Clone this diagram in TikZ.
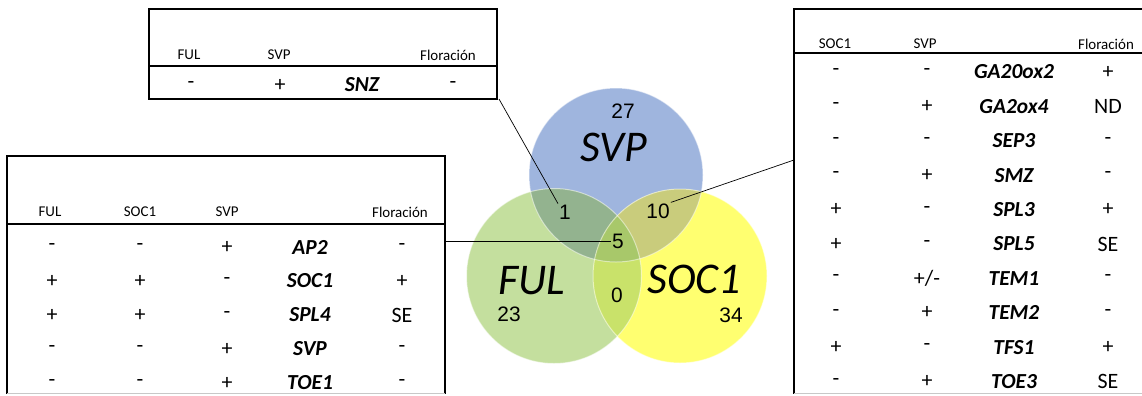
\documentclass[tikz,border=0pt]{standalone}
\usepackage{fontspec}
\setmainfont{Carlito}
\newfontfamily\numfont{Liberation Sans}
\usetikzlibrary{backgrounds}
\definecolor{svpColor}{HTML}{9FB5DE}
\definecolor{fulColor}{HTML}{C4DF9E}
\definecolor{socColor}{HTML}{FFFF70}
\definecolor{svpFulColor}{HTML}{93B38F}
\definecolor{svpSocColor}{HTML}{C9CC7C}
\definecolor{fulSocColor}{HTML}{C9E26A}
\definecolor{allColor}{HTML}{A8C86A}
\definecolor{bottomColor}{HTML}{C8C8C8}
\def\textFlor{Floraci\'{o}n}

\begin{document}
\begin{tikzpicture}[x=1bp,y=-1bp,
  hdr/.style={inner sep=0pt, font=\fontsize{15}{17}\selectfont},
  sign/.style={inner sep=0pt, font=\fontsize{22}{24}\selectfont},
  gene/.style={inner sep=0pt, font=\fontsize{21.5}{23}\selectfont\bfseries\itshape},
  tally/.style={inner sep=1bp, font=\numfont\fontsize{21}{23}\selectfont},
  setname/.style={inner sep=0pt, font=\fontsize{44}{46}\selectfont\itshape},
  frameline/.style={line width=1.6bp},
  ruleline/.style={line width=1.2bp},
  pinline/.style={line width=0.7bp}]

\useasboundingbox[fill=white] (0,0) rectangle (1142,395);

% venn layer
\begin{scope}
\coordinate (cSVP) at (616,175);
\coordinate (cFUL) at (554,276);
\coordinate (cSOC) at (680,276);
\fill[svpColor] (cSVP) circle[radius=87bp];
\fill[fulColor] (cFUL) circle[radius=87.5bp];
\fill[socColor] (cSOC) circle[radius=87bp];
\begin{scope}
\clip (cSVP) circle[radius=87bp];
\fill[svpFulColor] (cFUL) circle[radius=87.5bp];
\fill[svpSocColor] (cSOC) circle[radius=87bp];
\end{scope}
\begin{scope}
\clip (cFUL) circle[radius=87.5bp];
\fill[fulSocColor] (cSOC) circle[radius=87bp];
\clip (cSVP) circle[radius=87bp];
\fill[allColor] (cSOC) circle[radius=87bp];
\end{scope}
\draw[white, opacity=0.5, line width=1bp] (cSVP) circle[radius=87bp];
\draw[white, opacity=0.5, line width=1bp] (cFUL) circle[radius=87.5bp];
\draw[white, opacity=0.5, line width=1bp] (cSOC) circle[radius=87bp];
\end{scope}

% venn labels
\begin{scope}
\node[setname] (setSVP) at (614,147) {SVP};
\node[setname] (setFUL) at (532,281) {FUL};
\node[setname] (setSOC) at (694,279) {SOC1};
\node[tally] (n27) at (623,111) {27};
\node[tally] (n23) at (509,314) {23};
\node[tally] (n34) at (731,315) {34};
\node[tally] (n1) at (565,212) {1};
\node[tally] (n10) at (658,211) {10};
\node[tally] (n5) at (618,241) {5};
\node[tally] (n0) at (617,295) {0};
\end{scope}

% top table
\begin{scope}
\draw[frameline] (149,9) rectangle (497,99);
\draw[ruleline] (149,66) -- (497,66);
\coordinate (topPin) at (499,99);
\node[hdr] (topFul) at (189,55) {FUL};
\node[hdr] (topSvp) at (279,55) {SVP};
\node[hdr] (topFlor) at (448,55) {\textFlor};
\begin{scope}[shift={(0,85)}]
\node[sign] (snzFul) at (191,0) {-};
\node[sign] (snzSvp) at (280,0) {+};
\node[gene] (snz) at (362,0) {SNZ};
\node[sign] (snzFlor) at (453,0) {-};
\end{scope}
\end{scope}

% left table
\begin{scope}
\draw[frameline] (445,394) -- (445,156) -- (7,156) -- (7,394);
\draw[bottomColor] (7,393.5) -- (445,393.5);
\draw[ruleline] (7,224) -- (445,224);
\coordinate (leftPin) at (445,241);
\node[hdr] (leftFul) at (50,212) {FUL};
\node[hdr] (leftSoc) at (140,212) {SOC1};
\node[hdr] (leftSvp) at (227,212) {SVP};
\node[hdr] (leftFlor) at (400,212) {\textFlor};
\begin{scope}[shift={(0,247)}]
\node[sign] (ap2Ful) at (52,0) {-};
\node[sign] (ap2Soc) at (140,0) {-};
\node[sign] (ap2Svp) at (227,0) {+};
\node[gene] (ap2) at (310,0) {AP2};
\node[sign] (ap2Flor) at (402,0) {-};
\end{scope}
\begin{scope}[shift={(0,281)}]
\node[sign] (soc1Ful) at (52,0) {+};
\node[sign] (soc1Soc) at (140,0) {+};
\node[sign] (soc1Svp) at (227,0) {-};
\node[gene] (soc1) at (310,0) {SOC1};
\node[sign] (soc1Flor) at (402,0) {+};
\end{scope}
\begin{scope}[shift={(0,315)}]
\node[sign] (spl4Ful) at (52,0) {+};
\node[sign] (spl4Soc) at (140,0) {+};
\node[sign] (spl4Svp) at (227,0) {-};
\node[gene] (spl4) at (310,0) {SPL4};
\node[sign] (spl4Flor) at (402,0) {SE};
\end{scope}
\begin{scope}[shift={(0,349)}]
\node[sign] (svpFul) at (52,0) {-};
\node[sign] (svpSoc) at (140,0) {-};
\node[sign] (svpSvp) at (227,0) {+};
\node[gene] (svp) at (310,0) {SVP};
\node[sign] (svpFlor) at (402,0) {-};
\end{scope}
\begin{scope}[shift={(0,383)}]
\node[sign] (toe1Ful) at (52,0) {-};
\node[sign] (toe1Soc) at (140,0) {-};
\node[sign] (toe1Svp) at (227,0) {+};
\node[gene] (toe1) at (310,0) {TOE1};
\node[sign] (toe1Flor) at (402,0) {-};
\end{scope}
\end{scope}

% right table
\begin{scope}
\draw[frameline] (1150,9) -- (794,9) -- (794,394);
\draw[bottomColor] (794,393.5) -- (1150,393.5);
\draw[ruleline] (794,53) -- (1150,53);
\coordinate (rightPin) at (794,160);
\node[hdr] (rightSoc) at (835,44) {SOC1};
\node[hdr] (rightSvp) at (925,44) {SVP};
\node[hdr] (rightFlor) at (1106,44) {\textFlor};
\begin{scope}[shift={(0,72)}]
\node[sign] (ga20Soc) at (836,0) {-};
\node[sign] (ga20Svp) at (927,0) {-};
\node[gene] (ga20) at (1014,0) {GA20ox2};
\node[sign] (ga20Flor) at (1108,0) {+};
\end{scope}
\begin{scope}[shift={(0,106.4)}]
\node[sign] (ga2Soc) at (836,0) {-};
\node[sign] (ga2Svp) at (927,0) {+};
\node[gene] (ga2) at (1014,0) {GA2ox4};
\node[sign] (ga2Flor) at (1108,0) {ND};
\end{scope}
\begin{scope}[shift={(0,140.8)}]
\node[sign] (sep3Soc) at (836,0) {-};
\node[sign] (sep3Svp) at (927,0) {-};
\node[gene] (sep3) at (1014,0) {SEP3};
\node[sign] (sep3Flor) at (1108,0) {-};
\end{scope}
\begin{scope}[shift={(0,175.2)}]
\node[sign] (smzSoc) at (836,0) {-};
\node[sign] (smzSvp) at (927,0) {+};
\node[gene] (smz) at (1014,0) {SMZ};
\node[sign] (smzFlor) at (1108,0) {-};
\end{scope}
\begin{scope}[shift={(0,209.6)}]
\node[sign] (spl3Soc) at (836,0) {+};
\node[sign] (spl3Svp) at (927,0) {-};
\node[gene] (spl3) at (1014,0) {SPL3};
\node[sign] (spl3Flor) at (1108,0) {+};
\end{scope}
\begin{scope}[shift={(0,244)}]
\node[sign] (spl5Soc) at (836,0) {+};
\node[sign] (spl5Svp) at (927,0) {-};
\node[gene] (spl5) at (1014,0) {SPL5};
\node[sign] (spl5Flor) at (1108,0) {SE};
\end{scope}
\begin{scope}[shift={(0,278.4)}]
\node[sign] (tem1Soc) at (836,0) {-};
\node[sign] (tem1Svp) at (927,0) {+/-};
\node[gene] (tem1) at (1014,0) {TEM1};
\node[sign] (tem1Flor) at (1108,0) {-};
\end{scope}
\begin{scope}[shift={(0,312.8)}]
\node[sign] (tem2Soc) at (836,0) {-};
\node[sign] (tem2Svp) at (927,0) {+};
\node[gene] (tem2) at (1014,0) {TEM2};
\node[sign] (tem2Flor) at (1108,0) {-};
\end{scope}
\begin{scope}[shift={(0,347.2)}]
\node[sign] (tfs1Soc) at (836,0) {+};
\node[sign] (tfs1Svp) at (927,0) {-};
\node[gene] (tfs1) at (1014,0) {TFS1};
\node[sign] (tfs1Flor) at (1108,0) {+};
\end{scope}
\begin{scope}[shift={(0,381.6)}]
\node[sign] (toe3Soc) at (836,0) {-};
\node[sign] (toe3Svp) at (927,0) {+};
\node[gene] (toe3) at (1014,0) {TOE3};
\node[sign] (toe3Flor) at (1108,0) {SE};
\end{scope}
\end{scope}

% pointer lines
\begin{scope}
\draw[pinline] (topPin) -- (n1.north west);
\draw[pinline] (leftPin) -- (leftPin -| n5.west);
\draw[pinline] (n10.north east) -- (rightPin);
\end{scope}

\end{tikzpicture}
\end{document}
